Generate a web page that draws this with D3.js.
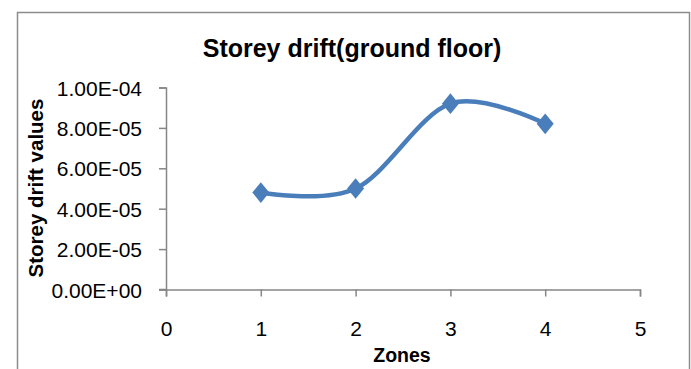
<!DOCTYPE html>
<html><head><meta charset="utf-8">
<script src="https://cdn.jsdelivr.net/npm/d3@7"></script>
<style>body{margin:0;background:#fff}svg{display:block}text{font-family:"Liberation Sans",Arial,sans-serif;fill:#000}</style>
</head><body>
<svg id="c" width="691" height="369"></svg>
<script>
const zones = [1, 2, 3, 4];
const driftValues = [4.8e-5, 5.0e-5, 9.2e-5, 8.2e-5];
const xTicks = [0, 1, 2, 3, 4, 5];
const yTicks = [0, 2e-5, 4e-5, 6e-5, 8e-5, 1e-4];
const yTickLabels = ["0.00E+00", "2.00E-05", "4.00E-05", "6.00E-05", "8.00E-05", "1.00E-04"];

const svg = d3.select("#c");
// outer frame
svg.append("rect").attr("x", 17.5).attr("y", 12.5).attr("width", 672).attr("height", 370)
  .attr("fill", "none").attr("stroke", "#8c8c8c").attr("stroke-width", 1.5);

const x = d3.scaleLinear().domain([0, 5]).range([166, 640]);
const y = d3.scaleLinear().domain([0, 1e-4]).range([289.5, 87.5]);
const axisColor = "#868686";

const yAxis = svg.append("g").attr("transform", `translate(${x(0)},0)`)
  .call(d3.axisLeft(y).tickValues(yTicks).tickSize(7).tickPadding(17)
    .tickFormat((d, i) => yTickLabels[i]));
yAxis.selectAll("text").style("font-size", "21px").attr("dy", "0.36em");

const xAxis = svg.append("g").attr("transform", `translate(0,${y(0)})`)
  .call(d3.axisBottom(x).tickValues(xTicks).tickSize(7).tickPadding(25).tickFormat(d3.format("d")));
xAxis.selectAll("text").style("font-size", "21px");

[yAxis, xAxis].forEach(g => {
  g.select(".domain").attr("stroke", axisColor).attr("stroke-width", 1.5);
  g.selectAll(".tick line").attr("stroke", axisColor).attr("stroke-width", 1.5);
});
svg.append("line").attr("x1", x(0) - 7).attr("x2", x(0)).attr("y1", y(0)).attr("y2", y(0))
  .attr("stroke", axisColor).attr("stroke-width", 1.5);

const pts = zones.map((z, i) => [x(z), y(driftValues[i])]);
const line = d3.line().curve(d3.curveCardinal.tension(0));
svg.append("path").attr("d", line(pts)).attr("fill", "none")
  .attr("stroke", "#4a7ebb").attr("stroke-width", 4.5).attr("stroke-linecap", "round");

svg.selectAll(".m").data(pts).join("path").attr("class", "m")
  .attr("transform", d => `translate(${d[0]},${d[1]}) scale(1,1.22)`)
  .attr("d", d3.symbol(d3.symbolDiamond2, 184)())
  .attr("fill", "#4a7ebb");

svg.append("text").attr("x", 352).attr("y", 57).attr("text-anchor", "middle")
  .style("font-size", "25px").style("font-weight", "bold").text("Storey drift(ground floor)");
svg.append("text").attr("x", 402).attr("y", 362).attr("text-anchor", "middle")
  .style("font-size", "19.5px").style("font-weight", "bold").text("Zones");
svg.append("text").attr("transform", "translate(43,188) rotate(-90)").attr("text-anchor", "middle")
  .style("font-size", "20.5px").style("font-weight", "bold").text("Storey drift values");
</script>
</body></html>
